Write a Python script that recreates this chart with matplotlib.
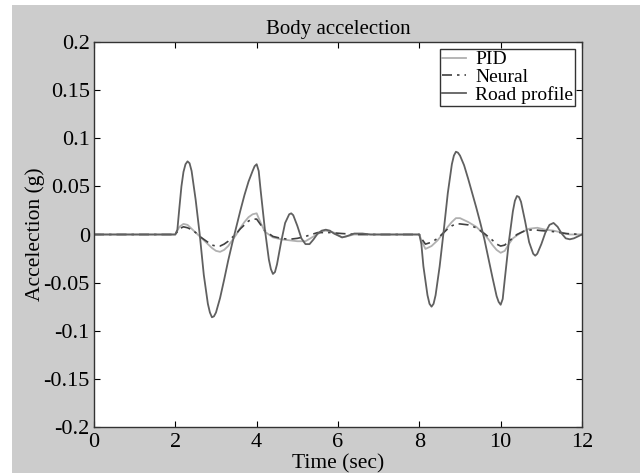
import matplotlib
matplotlib.use("Agg")
import matplotlib.pyplot as plt
from matplotlib.patches import Rectangle

plt.rcParams['font.family'] = ['Liberation Serif', 'DejaVu Serif']

# road profile response (big solid curve)
t_road = [0, 2.0, 2.05, 2.1, 2.15, 2.2, 2.25, 2.3, 2.35, 2.4, 2.5, 2.6, 2.7, 2.8, 2.85,
          2.9, 2.95, 3.0, 3.1, 3.2, 3.3, 3.4, 3.5, 3.6, 3.7, 3.8, 3.9, 3.95, 4.0,
          4.05, 4.1, 4.2, 4.3, 4.35, 4.4, 4.45, 4.5, 4.6, 4.7, 4.8, 4.85, 4.9, 5.0,
          5.1, 5.2, 5.3, 5.4, 5.5, 5.6, 5.7, 5.8, 5.9, 6.0, 6.1, 6.2, 6.4, 6.6, 6.8,
          8.0, 8.05, 8.1, 8.2, 8.25, 8.3, 8.35, 8.4, 8.5, 8.6, 8.7, 8.8, 8.85, 8.9,
          8.95, 9.0, 9.1, 9.2, 9.3, 9.4, 9.5, 9.6, 9.7, 9.8, 9.9, 9.95, 10.0, 10.05,
          10.1, 10.2, 10.3, 10.35, 10.4, 10.45, 10.5, 10.6, 10.7, 10.8, 10.85, 10.9,
          11.0, 11.1, 11.2, 11.3, 11.4, 11.5, 11.6, 11.7, 11.8, 11.9, 12.0]
road = [0, 0, 0.005, 0.028, 0.05, 0.065, 0.073, 0.076, 0.074, 0.066, 0.036, 0.0,
        -0.042, -0.072, -0.081, -0.086, -0.085, -0.081, -0.066, -0.047, -0.027,
        -0.009, 0.008, 0.025, 0.041, 0.055, 0.066, 0.071, 0.073, 0.066, 0.045,
        0.006, -0.026, -0.036, -0.041, -0.039, -0.031, -0.008, 0.012, 0.021,
        0.022, 0.02, 0.009, -0.004, -0.01, -0.01, -0.005, 0.001, 0.004, 0.005,
        0.004, 0.001, -0.001, -0.003, -0.002, 0.001, 0.001, 0.0, 0.0, -0.01,
        -0.033, -0.063, -0.072, -0.075, -0.072, -0.063, -0.033, 0.004, 0.043,
        0.073, 0.082, 0.086, 0.085, 0.082, 0.072, 0.058, 0.043, 0.028, 0.012,
        -0.005, -0.025, -0.045, -0.064, -0.07, -0.073, -0.067, -0.047, -0.008,
        0.024, 0.035, 0.04, 0.039, 0.034, 0.014, -0.008, -0.02, -0.022, -0.02,
        -0.01, 0.002, 0.01, 0.012, 0.008, 0.001, -0.004, -0.005, -0.004, -0.002,
        0.0]

# PID controller response
t_pid = [0, 2.0, 2.1, 2.2, 2.3, 2.4, 2.5, 2.6, 2.7, 2.8, 2.9, 3.0, 3.1, 3.2, 3.3, 3.4,
         3.5, 3.6, 3.7, 3.8, 3.9, 4.0, 4.1, 4.2, 4.4, 4.6, 4.8, 5.0, 5.2, 5.4, 5.6,
         5.7, 5.9, 6.1, 6.4, 6.8, 8.0, 8.05, 8.15, 8.3, 8.45, 8.6, 8.7, 8.8, 8.9,
         9.0, 9.2, 9.4, 9.6, 9.7, 9.8, 9.9, 10.0, 10.1, 10.2, 10.3, 10.5, 10.7,
         10.9, 11.1, 11.3, 11.5, 11.7, 12.0]
pid = [0, 0, 0.008, 0.011, 0.01, 0.006, 0.002, -0.002, -0.006, -0.01, -0.014, -0.017,
       -0.018, -0.016, -0.012, -0.006, 0.0, 0.007, 0.013, 0.018, 0.021, 0.022,
       0.012, 0.003, -0.003, -0.005, -0.006, -0.007, -0.007, -0.002, 0.003, 0.004,
       0.002, -0.003, 0.0, 0.0, 0.0, -0.006, -0.015, -0.012, -0.006, 0.002, 0.008,
       0.013, 0.017, 0.017, 0.013, 0.008, 0.0, -0.005, -0.011, -0.016, -0.019,
       -0.017, -0.01, -0.004, 0.002, 0.006, 0.007, 0.005, 0.004, 0.002, 0.0, 0.0]

# neural controller response
t_neu = [0, 2.0, 2.1, 2.2, 2.3, 2.4, 2.5, 2.6, 2.7, 2.8, 2.9, 3.0, 3.1, 3.2, 3.3, 3.4,
         3.5, 3.6, 3.7, 3.8, 3.9, 4.0, 4.1, 4.2, 4.4, 4.6, 4.8, 5.0, 5.2, 5.5, 5.8,
         6.1, 6.5, 8.0, 8.05, 8.15, 8.3, 8.45, 8.6, 8.7, 8.8, 8.9, 9.0, 9.2, 9.4,
         9.6, 9.8, 9.9, 10.0, 10.1, 10.2, 10.4, 10.6, 10.8, 11.0, 11.3, 11.6, 12.0]
neural = [0, 0, 0.006, 0.008, 0.007, 0.005, 0.002, -0.002, -0.005, -0.008, -0.011,
          -0.012, -0.012, -0.01, -0.007, -0.003, 0.001, 0.006, 0.01, 0.014, 0.016,
          0.016, 0.01, 0.004, -0.002, -0.004, -0.005, -0.004, -0.002, 0.002, 0.002,
          0.001, 0.0, 0.0, -0.004, -0.01, -0.008, -0.004, 0.002, 0.006, 0.009, 0.011,
          0.011, 0.01, 0.007, 0.001, -0.006, -0.01, -0.012, -0.011, -0.007, 0.0,
          0.004, 0.005, 0.004, 0.003, 0.001, 0.0]

fig = plt.figure(figsize=(6.4, 4.73), dpi=100, facecolor='white')
# gray panel with a thin white margin at the top and left
fig.patches.append(Rectangle((12 / 640, 0), 1, 1 - 5 / 473, transform=fig.transFigure,
                             facecolor='#cccccc', edgecolor='none', zorder=-10))

ax = fig.add_axes([94 / 640, 1 - 427 / 473, (582 - 94) / 640, (427 - 42) / 473])
ax.set_facecolor('white')

ax.plot(t_pid, pid, color='#b0b0b0', lw=1.3, label='PID')
ax.plot(t_neu, neural, color='#404040', lw=1.2, ls=(0, (6, 3, 1.5, 3)), label='Neural')
ax.plot(t_road, road, color='#606060', lw=1.3, label='Road profile')

ax.set_xlim(0, 12)
ax.set_ylim(-0.2, 0.2)
ax.set_xticks([0, 2, 4, 6, 8, 10, 12])
ax.set_yticks([-0.2, -0.15, -0.1, -0.05, 0, 0.05, 0.1, 0.15, 0.2])
ax.set_yticklabels(['-0.2', '-0.15', '-0.1', '-0.05', '0', '0.05', '0.1', '0.15', '0.2'])
ax.tick_params(direction='in', top=True, right=True, labelsize=16, length=4,
               colors='black')
ax.tick_params(axis='y', pad=3)
ax.tick_params(axis='x', pad=4)
for s in ax.spines.values():
    s.set_color('#333333')
    s.set_linewidth(1.0)

ax.set_title('Body accelection', fontsize=15, pad=6)
ax.set_xlabel('Time (sec)', fontsize=15.5, labelpad=2)
ax.set_ylabel('Accelection (g)', fontsize=15.5, labelpad=-1)

leg = ax.legend(loc='upper right', fontsize=14, handlelength=1.2, handletextpad=0.5,
                borderpad=0.1, labelspacing=0.0, fancybox=False, framealpha=1,
                borderaxespad=0.35)
leg.get_frame().set_edgecolor('#333333')
leg.get_frame().set_linewidth(1.0)

plt.savefig('out.png', dpi=100, facecolor=fig.get_facecolor())
